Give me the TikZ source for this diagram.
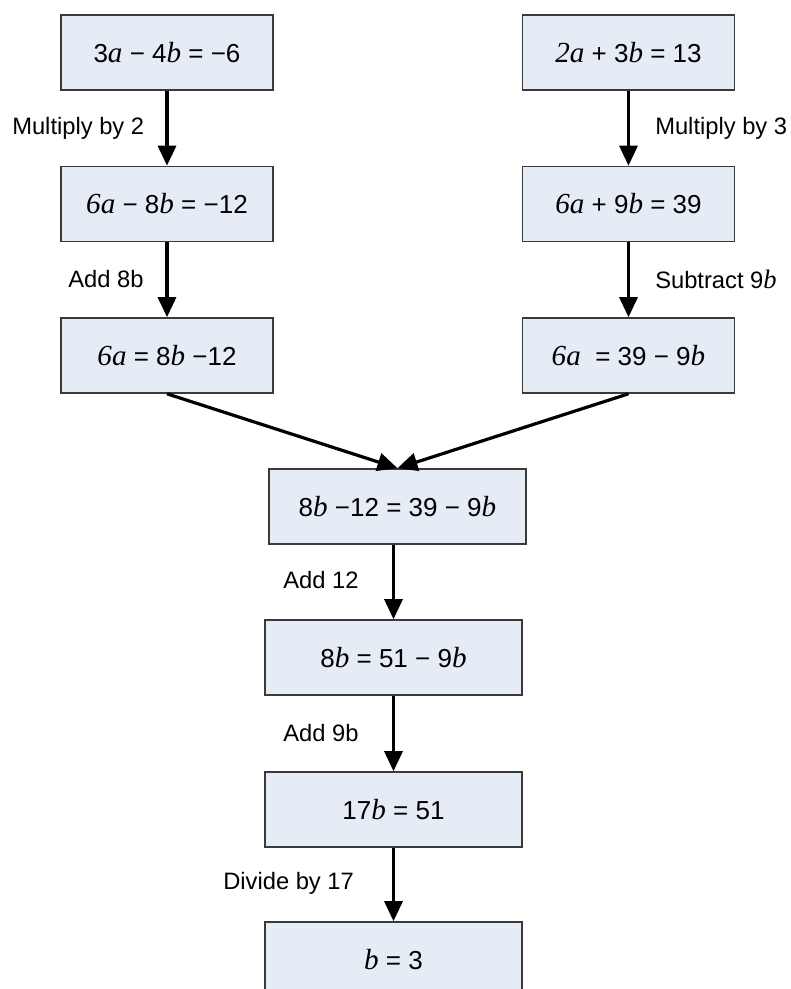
\documentclass[tikz,border=0pt]{standalone}
\usepackage{fontspec}
\setmainfont{Liberation Sans}
\newfontfamily\varfont[Scale=1.12]{Liberation Serif}
\usetikzlibrary{arrows.meta}
\newcommand\vr[1]{{\varfont\itshape #1}}
\definecolor{boxfill}{HTML}{E6ECF6}
\definecolor{boxline}{HTML}{3A3A3A}
\tikzset{
  eqbox/.style={draw=boxline, line width=1.2pt, fill=boxfill, rectangle,
    minimum width=159pt, minimum height=56.25pt, inner sep=0pt,
    font=\fontsize{19.5}{22}\selectfont},
  widebox/.style={eqbox, minimum width=192.75pt},
  steplabel/.style={inner sep=0pt, anchor=west, font=\fontsize{17.8}{21}\selectfont},
  flow/.style={line width=2.4pt, -{Triangle[length=15pt, width=13.5pt]}}
}
\begin{document}
\begin{tikzpicture}[x=0.75pt, y=-0.75pt]
  \clip (0,0) rectangle (790,989);
  \fill[white] (0,0) rectangle (790,989);

  % left column
  \node[eqbox] (L1) at (167,52.5) {3\vr{a} − 4\vr{b} = −6};
  \node[eqbox] (L2) at (167,204) {\vr{6a} − 8\vr{b} = −12};
  \node[eqbox] (L3) at (167,355.5) {\vr{6a} = 8\vr{b} −12};

  % right column
  \node[eqbox] (R1) at (628.5,52.5) {\vr{2a} + 3\vr{b} = 13};
  \node[eqbox] (R2) at (628.5,204) {\vr{6a} + 9\vr{b} = 39};
  \node[eqbox] (R3) at (628.5,355.5) {\vr{6a}\ \ = 39 − 9\vr{b}};

  % merged chain
  \node[widebox] (M1) at (397.5,506.5) {8\vr{b} −12 = 39 − 9\vr{b}};
  \node[widebox] (M2) at (393.5,657.5) {8\vr{b} = 51 − 9\vr{b}};
  \node[widebox] (M3) at (393.5,809.5) {17\vr{b} = 51};
  \node[widebox] (M4) at (393.5,959.5) {\vr{b} = 3};

  % step labels
  \node[steplabel] (t1) at (12,128) {Multiply by 2};
  \node[steplabel] (t2) at (68,279) {Add 8b};
  \node[steplabel] (t3) at (655,128) {Multiply by 3};
  \node[steplabel] (t4) at (655,279) {Subtract 9\vr{b}};
  \node[steplabel] (t5) at (283,580) {Add 12};
  \node[steplabel] (t6) at (283,733) {Add 9b};
  \node[steplabel] (t7) at (223,883) {Divide by 17};

  % connectors
  \draw[flow] (L1) -- (L2);
  \draw[flow] (L2) -- (L3);
  \draw[flow] (R1) -- (R2);
  \draw[flow] (R2) -- (R3);
  \draw[flow] (L3.south) -- (M1.north);
  \draw[flow] (R3.south) -- (M1.north);
  \draw[flow] (M2.north |- M1.south) -- (M2.north);
  \draw[flow] (M2) -- (M3);
  \draw[flow] (M3) -- (M4);
\end{tikzpicture}
\end{document}
